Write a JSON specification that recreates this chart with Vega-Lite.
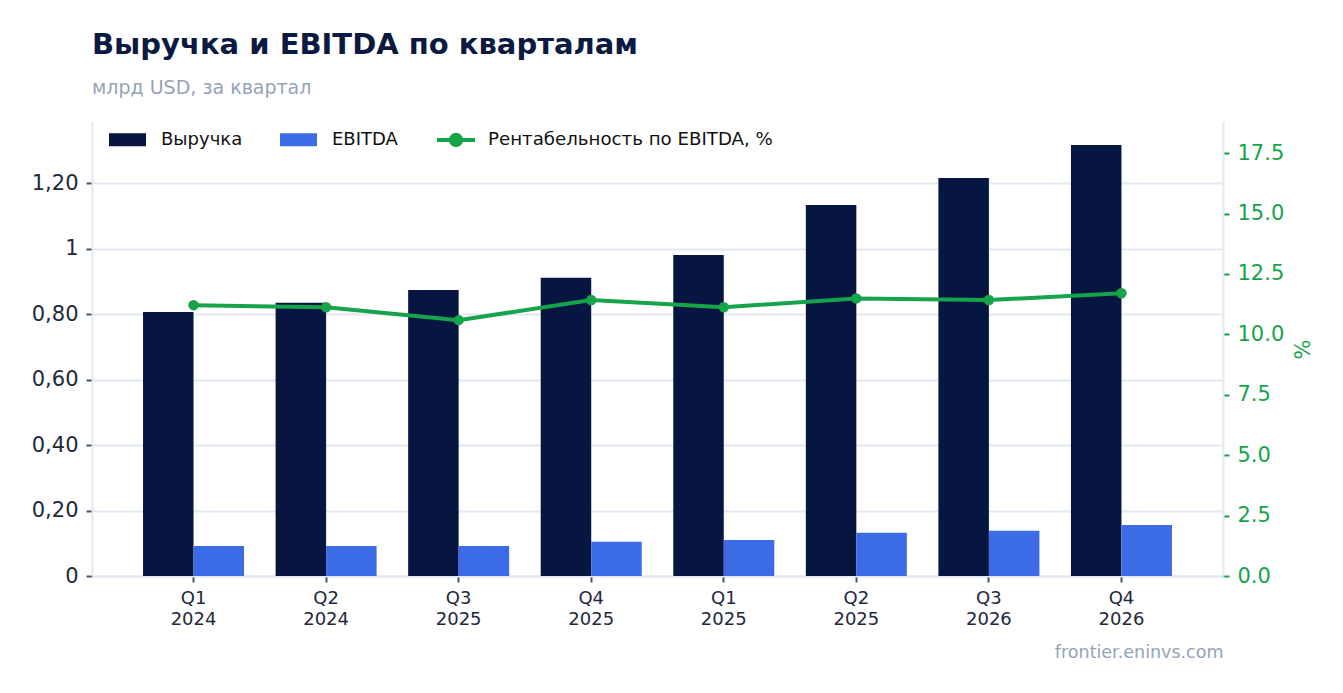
{
  "$schema": "https://vega.github.io/schema/vega-lite/v6.json",
  "width": 1131,
  "height": 454,
  "autosize": {"type": "none"},
  "padding": {"left": 92, "top": 122, "right": 120, "bottom": 117},
  "background": "white",
  "config": {
    "font": "DejaVu Sans",
    "view": {"stroke": null}
  },
  "title": {
    "text": "Выручка и EBITDA по кварталам",
    "subtitle": "млрд USD, за квартал",
    "anchor": "start",
    "frame": "group",
    "fontSize": 29,
    "fontWeight": "bold",
    "color": "#0b1a3f",
    "subtitleFontSize": 19,
    "subtitleColor": "#94a3b8",
    "subtitlePadding": 19,
    "offset": 21
  },
  "data": {
    "values": [
      {"quarter": "Q1 2024", "Выручка": 0.806, "EBITDA": 0.0916, "margin": 11.21},
      {"quarter": "Q2 2024", "Выручка": 0.834, "EBITDA": 0.0916, "margin": 11.12},
      {"quarter": "Q3 2025", "Выручка": 0.873, "EBITDA": 0.0916, "margin": 10.59},
      {"quarter": "Q4 2025", "Выручка": 0.911, "EBITDA": 0.1047, "margin": 11.42},
      {"quarter": "Q1 2025", "Выручка": 0.980, "EBITDA": 0.110, "margin": 11.12},
      {"quarter": "Q2 2025", "Выручка": 1.133, "EBITDA": 0.132, "margin": 11.49},
      {"quarter": "Q3 2026", "Выручка": 1.215, "EBITDA": 0.138, "margin": 11.42},
      {"quarter": "Q4 2026", "Выручка": 1.316, "EBITDA": 0.156, "margin": 11.70}
    ]
  },
  "encoding": {
    "x": {
      "field": "quarter",
      "type": "nominal",
      "sort": null,
      "scale": {"paddingInner": 0.238, "paddingOuter": 0.385},
      "axis": {
        "labelAngle": 0,
        "labelExpr": "split(datum.label, ' ')",
        "labelFontSize": 18,
        "labelColor": "#1e293b",
        "labelPadding": 7,
        "labelLineHeight": 21,
        "tickColor": "#475569",
        "tickSize": 6,
        "tickWidth": 2,
        "domainColor": "#e2e8f0",
        "domainWidth": 2,
        "grid": false,
        "title": "frontier.eninvs.com",
        "titleAnchor": "end",
        "titleAlign": "right",
        "titleColor": "#94a3b8",
        "titleFontSize": 17.5,
        "titleFontWeight": "normal",
        "titlePadding": 15
      }
    }
  },
  "layer": [
    {
      "transform": [{"fold": ["Выручка", "EBITDA"], "as": ["series", "value"]}],
      "mark": {"type": "bar"},
      "encoding": {
        "xOffset": {"field": "series", "type": "nominal", "sort": ["Выручка", "EBITDA"], "scale": {"paddingInner": 0, "paddingOuter": 0}},
        "y": {
          "field": "value",
          "type": "quantitative",
          "scale": {"domain": [0, 1.3863], "nice": false, "zero": true},
          "axis": {
            "orient": "left",
            "values": [0, 0.2, 0.4, 0.6, 0.8, 1, 1.2],
            "labelExpr": "datum.value == 0 ? '0' : datum.value == 1 ? '1' : replace(format(datum.value, '.2f'), '.', ',')",
            "labelFontSize": 21,
            "labelColor": "#1e293b",
            "labelPadding": 8,
            "tickColor": "#475569",
            "tickSize": 6,
            "tickWidth": 2,
            "grid": true,
            "gridColor": "#e2e8f0",
            "gridWidth": 2,
            "domainColor": "#e2e8f0",
            "domainWidth": 2,
            "title": null
          }
        },
        "color": {
          "field": "series",
          "type": "nominal",
          "scale": {"domain": ["Выручка", "EBITDA"], "range": ["#061640", "#3b6ce6"]},
          "legend": {
            "orient": "none",
            "legendX": 17,
            "legendY": -1,
            "direction": "horizontal",
            "title": null,
            "symbolType": "M-1,-0.35H1V0.35H-1Z",
            "symbolSize": 1369,
            "symbolStrokeWidth": 0,
            "symbolOpacity": 1,
            "labelFontSize": 18,
            "labelColor": "#111111",
            "labelOffset": 15,
            "labelLimit": 0,
            "columnPadding": 37
          }
        }
      }
    },
    {
      "mark": {"type": "line", "strokeWidth": 4},
      "encoding": {
        "y": {
          "field": "margin",
          "type": "quantitative",
          "scale": {"domain": [0, 18.79], "nice": false, "zero": true},
          "axis": {
            "orient": "right",
            "values": [0, 2.5, 5, 7.5, 10, 12.5, 15, 17.5],
            "format": ".1f",
            "labelFontSize": 21,
            "labelColor": "#16a34a",
            "labelPadding": 8,
            "tickColor": "#16a34a",
            "tickSize": 6,
            "tickWidth": 2,
            "grid": false,
            "domainColor": "#e2e8f0",
            "domainWidth": 2,
            "title": "%",
            "titleColor": "#16a34a",
            "titleFontSize": 21,
            "titleFontWeight": "normal",
            "titleAngle": 270,
            "titlePadding": 30
          }
        },
        "stroke": {
          "datum": "Рентабельность по EBITDA, %",
          "type": "nominal",
          "scale": {"range": ["#16a34a"]},
          "legend": {
            "orient": "none",
            "legendX": 343,
            "legendY": -3,
            "title": null,
            "symbolType": "M-1,0H1M-0.27,0A0.27,0.27,0,1,1,0.27,0A0.27,0.27,0,1,1,-0.27,0Z",
            "symbolSize": 1444,
            "symbolStrokeWidth": 4,
            "symbolFillColor": "#16a34a",
            "labelFontSize": 18.2,
            "labelColor": "#111111",
            "labelOffset": 11,
            "labelLimit": 0,
            "encode": {"symbols": {"update": {"fill": {"value": "#16a34a"}, "stroke": {"value": "#16a34a"}}}}
          }
        }
      }
    },
    {
      "mark": {"type": "point", "filled": true, "size": 110, "color": "#16a34a", "opacity": 1},
      "encoding": {
        "y": {"field": "margin", "type": "quantitative", "scale": {"domain": [0, 18.79], "nice": false, "zero": true}, "axis": null}
      }
    }
  ],
  "resolve": {"scale": {"y": "independent"}, "axis": {"y": "independent"}}
}
